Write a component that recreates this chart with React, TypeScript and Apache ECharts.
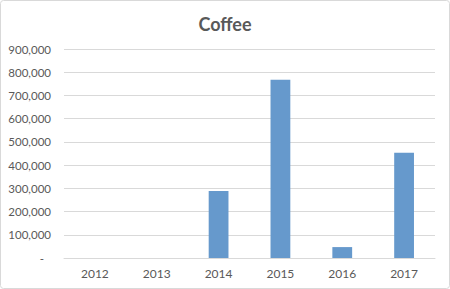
import React, { useEffect, useRef } from "react";
import * as echarts from "echarts";

const categories = ["2012", "2013", "2014", "2015", "2016", "2017"];
const values = [0, 0, 289000, 768000, 47000, 453000];
const title = "Coffee";

export default function App() {
  const ref = useRef<HTMLDivElement>(null);
  useEffect(() => {
    document.body.style.margin = "0";
    const chart = echarts.init(ref.current!, null, { renderer: "svg" });
    chart.setOption({
      animation: false,
      backgroundColor: "#ffffff",
      title: {
        text: title,
        left: "center",
        top: 10,
        textStyle: { fontFamily: "Lato", fontSize: 18, fontWeight: "bold", color: "#595959" },
      },
      grid: { left: 64, right: 15, top: 49, bottom: 31 },
      xAxis: {
        type: "category",
        data: categories,
        axisLine: { lineStyle: { color: "#d9d9d9" } },
        axisTick: { show: false },
        axisLabel: { color: "#595959", fontFamily: "Lato", fontSize: 12, margin: 9 },
      },
      yAxis: {
        type: "value",
        min: 0,
        max: 900000,
        interval: 100000,
        axisLine: { show: false },
        axisTick: { show: false },
        splitLine: { lineStyle: { color: "#d9d9d9" } },
        axisLabel: {
          color: "#595959",
          fontFamily: "Lato",
          fontSize: 11.5,
          margin: 13,
          formatter: (v: number) => (v === 0 ? "{z|-}" : v.toLocaleString("en-US")),
          rich: { z: { padding: [0, 7, 0, 0], color: "#595959", fontFamily: "Lato", fontSize: 11.5 } },
        },
      },
      series: [
        {
          type: "bar",
          data: values,
          barWidth: "32%",
          itemStyle: { color: "#6699cc" },
        },
      ],
      graphic: [
        {
          type: "rect",
          shape: { x: 0.5, y: 0.5, width: 449, height: 288, r: 3 },
          style: { fill: "none", stroke: "#d9d9d9", lineWidth: 1 },
          silent: true,
        },
      ],
    });
    return () => chart.dispose();
  }, []);
  return <div ref={ref} style={{ width: 450, height: 289 }} />;
}
